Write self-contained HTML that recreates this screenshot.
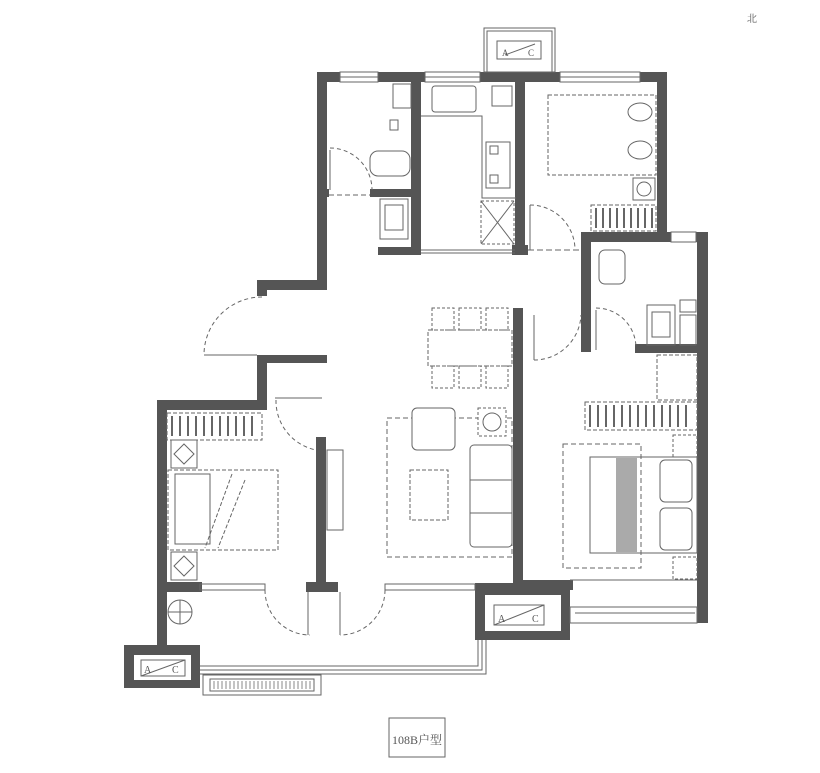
<!DOCTYPE html>
<html><head><meta charset="utf-8"><style>
html,body{margin:0;padding:0;background:#fff;}
svg{display:block;}
text{font-family:"Liberation Serif","Noto Serif CJK SC",serif;fill:#555;}
</style></head><body>
<svg width="820" height="773" viewBox="0 0 820 773" xmlns="http://www.w3.org/2000/svg">
<g fill="#555" stroke="none">
<rect x="317" y="72" width="350" height="10"/>
<rect x="317" y="72" width="10" height="218"/>
<rect x="257" y="280" width="70" height="10"/>
<rect x="257" y="280" width="10" height="16"/>
<rect x="411" y="82" width="10" height="173"/>
<rect x="378" y="247" width="43" height="8"/>
<rect x="370" y="189" width="43" height="8"/>
<rect x="317" y="189" width="12" height="8"/>
<rect x="515" y="82" width="10" height="173"/>
<rect x="512" y="245" width="16" height="10"/>
<rect x="657" y="72" width="10" height="170"/>
<rect x="581" y="232" width="127" height="10"/>
<rect x="581" y="232" width="10" height="120"/>
<rect x="697" y="232" width="11" height="391"/>
<rect x="635" y="344" width="65" height="9"/>
<rect x="513" y="308" width="10" height="280"/>
<rect x="257" y="355" width="10" height="55"/>
<rect x="257" y="355" width="70" height="8"/>
<rect x="157" y="400" width="110" height="10"/>
<rect x="157" y="400" width="10" height="245"/>
<rect x="316" y="437" width="10" height="150"/>
<rect x="306" y="582" width="32" height="10"/>
<rect x="157" y="582" width="45" height="10"/>
<rect x="475" y="583" width="95" height="57"/>
<rect x="513" y="580" width="60" height="10"/>
<rect x="124" y="645" width="76" height="43"/>
</g>
<g fill="#fff" stroke="none">
<rect x="485" y="595" width="76" height="36"/>
<rect x="134" y="655" width="57" height="25"/>
<rect x="270" y="363" width="25" height="20"/>
<rect x="300" y="363" width="22" height="20"/>
</g>
<g fill="none" stroke="#666" stroke-width="1">
<rect x="340" y="72" width="38" height="10" fill="#fff"/><line x1="340" y1="77" x2="378" y2="77"/>
<rect x="425" y="72" width="55" height="10" fill="#fff"/><line x1="425" y1="77" x2="480" y2="77"/>
<rect x="560" y="72" width="80" height="10" fill="#fff"/><line x1="560" y1="77" x2="640" y2="77"/>
<rect x="671" y="232" width="25" height="10" fill="#fff"/>
<rect x="484" y="28" width="71" height="44"/><rect x="487" y="31" width="65" height="41"/>
<rect x="497" y="41" width="44" height="18"/><line x1="505" y1="55" x2="535" y2="44"/>
<rect x="432" y="86" width="44" height="26" rx="3"/>
<polyline points="421,116 482,116 482,198 516,198"/>
<rect x="486" y="142" width="24" height="46"/>
<rect x="490" y="146" width="8" height="8"/><rect x="490" y="175" width="8" height="8"/>
<rect x="492" y="86" width="20" height="20"/>
<rect x="481" y="201" width="33" height="43" stroke-dasharray="3,2"/>
<line x1="481" y1="201" x2="514" y2="244"/><line x1="514" y1="201" x2="481" y2="244"/>
<line x1="421" y1="250" x2="515" y2="250"/><line x1="421" y1="253" x2="515" y2="253"/>
<rect x="370" y="151" width="40" height="25" rx="8"/>
<rect x="380" y="199" width="28" height="40"/><rect x="385" y="205" width="18" height="25"/>
<rect x="393" y="84" width="18" height="24"/><rect x="390" y="120" width="8" height="10"/>
<line x1="330" y1="150" x2="330" y2="190"/>
<path d="M330 148 A42 42 0 0 1 372 190" stroke-dasharray="4,3"/>
<line x1="329" y1="195" x2="370" y2="195" stroke-dasharray="5,3"/>
<rect x="548" y="95" width="108" height="80" stroke-dasharray="4,2"/>
<ellipse cx="640" cy="112" rx="12" ry="9"/><ellipse cx="640" cy="150" rx="12" ry="9"/>
<rect x="633" y="178" width="22" height="22"/><circle cx="644" cy="189" r="7"/>
<rect x="591" y="205" width="65" height="26" stroke-dasharray="4,2"/>
<path d="M596 208v20M603 208v20M610 208v20M617 208v20M624 208v20M631 208v20M638 208v20M645 208v20M652 208v20" stroke-width="2"/>
<line x1="530" y1="205" x2="530" y2="250"/>
<path d="M530 205 A45 45 0 0 1 575 250" stroke-dasharray="4,3"/>
<line x1="528" y1="250" x2="580" y2="250" stroke-dasharray="6,3"/>
<rect x="599" y="250" width="26" height="34" rx="6"/>
<rect x="647" y="305" width="28" height="40"/><rect x="652" y="312" width="18" height="25"/>
<rect x="680" y="300" width="16" height="12"/><rect x="680" y="315" width="16" height="30"/>
<line x1="596" y1="310" x2="596" y2="350"/>
<path d="M596 308 A40 40 0 0 1 636 348" stroke-dasharray="4,3"/>
<line x1="534" y1="315" x2="534" y2="360"/>
<path d="M534 360 A47 47 0 0 0 581 315" stroke-dasharray="4,3"/>
<rect x="428" y="330" width="84" height="36" stroke-dasharray="4,2"/>
<rect x="432" y="308" width="22" height="22" stroke-dasharray="3,2"/><rect x="459" y="308" width="22" height="22" stroke-dasharray="3,2"/><rect x="486" y="308" width="22" height="22" stroke-dasharray="3,2"/>
<rect x="432" y="366" width="22" height="22" stroke-dasharray="3,2"/><rect x="459" y="366" width="22" height="22" stroke-dasharray="3,2"/><rect x="486" y="366" width="22" height="22" stroke-dasharray="3,2"/>
<rect x="387" y="418" width="125" height="139" stroke-dasharray="5,3" fill="#fff"/>
<rect x="412" y="408" width="43" height="42" rx="5" fill="#fff"/>
<rect x="478" y="408" width="28" height="28" stroke-dasharray="3,2" fill="#fff"/><circle cx="492" cy="422" r="9"/>
<rect x="410" y="470" width="38" height="50" stroke-dasharray="4,2"/>
<rect x="470" y="445" width="42" height="102" rx="4" fill="#fff"/>
<line x1="470" y1="480" x2="512" y2="480"/><line x1="470" y1="513" x2="512" y2="513"/>
<rect x="327" y="450" width="16" height="80"/>
<path d="M262 297 A58 58 0 0 0 204 355" stroke-dasharray="4,3"/>
<line x1="204" y1="355" x2="257" y2="355"/>
<line x1="275" y1="398" x2="322" y2="398"/>
<path d="M276 400 A50 50 0 0 0 316 450" stroke-dasharray="4,3"/>
<rect x="167" y="413" width="95" height="27" stroke-dasharray="4,2"/>
<path d="M172 416v20M180 416v20M188 416v20M196 416v20M204 416v20M212 416v20M220 416v20M228 416v20M236 416v20M244 416v20M252 416v20" stroke-width="2"/>
<rect x="171" y="440" width="26" height="28"/><path d="M184 444l10 10-10 10-10-10z"/>
<rect x="171" y="552" width="26" height="28"/><path d="M184 556l10 10-10 10-10-10z"/>
<rect x="168" y="470" width="110" height="80" stroke-dasharray="4,2"/>
<rect x="175" y="474" width="35" height="70"/>
<line x1="232" y1="474" x2="205" y2="548" stroke-dasharray="4,2"/><line x1="245" y1="480" x2="218" y2="548" stroke-dasharray="4,2"/>
<circle cx="180" cy="612" r="12"/><line x1="168" y1="612" x2="192" y2="612"/><line x1="180" y1="600" x2="180" y2="624"/>
<rect x="657" y="355" width="40" height="45" stroke-dasharray="4,2"/>
<rect x="585" y="402" width="112" height="28" stroke-dasharray="4,2"/>
<path d="M590 405v22M598 405v22M606 405v22M614 405v22M622 405v22M630 405v22M638 405v22M646 405v22M654 405v22M662 405v22M670 405v22M678 405v22M686 405v22" stroke-width="2"/>
<rect x="563" y="444" width="78" height="124" stroke-dasharray="5,3"/>
<rect x="590" y="457" width="107" height="96"/>
<rect x="616" y="458" width="21" height="94" fill="#aaa" stroke="none"/>
<rect x="660" y="460" width="32" height="42" rx="5"/><rect x="660" y="508" width="32" height="42" rx="5"/>
<rect x="673" y="435" width="24" height="22" stroke-dasharray="3,2"/><rect x="673" y="557" width="24" height="22" stroke-dasharray="3,2"/>
<line x1="570" y1="580" x2="697" y2="580"/>
<rect x="570" y="607" width="127" height="16"/><line x1="575" y1="613" x2="695" y2="613"/>
<rect x="494" y="605" width="50" height="20"/><line x1="494" y1="625" x2="544" y2="605"/>
<rect x="141" y="660" width="44" height="16"/><line x1="141" y1="676" x2="185" y2="660"/>
<rect x="200" y="584" width="65" height="6"/>
<rect x="385" y="584" width="90" height="6"/>
<line x1="308" y1="592" x2="308" y2="635"/><line x1="340" y1="592" x2="340" y2="635"/>
<path d="M265 590 A45 45 0 0 0 310 635" stroke-dasharray="4,3"/>
<path d="M385 590 A45 45 0 0 1 340 635" stroke-dasharray="4,3"/>
<polyline points="200,666 478,666 478,640"/>
<polyline points="200,670 482,670 482,640"/>
<polyline points="200,674 486,674 486,640"/>
<rect x="203" y="675" width="118" height="20"/>
<rect x="210" y="679" width="104" height="12"/>
<path d="M214 681v8M218 681v8M222 681v8M226 681v8M230 681v8M234 681v8M238 681v8M242 681v8M246 681v8M250 681v8M254 681v8M258 681v8M262 681v8M266 681v8M270 681v8M274 681v8M278 681v8M282 681v8M286 681v8M290 681v8M294 681v8M298 681v8M302 681v8M306 681v8M310 681v8" stroke="#888"/>
<rect x="389" y="718" width="56" height="39"/>
</g>
<text x="417" y="744" font-size="12" text-anchor="middle">108B户型</text>
<text x="752" y="22" font-size="10" text-anchor="middle">北</text>
<text x="502" y="56" font-size="9">A</text><text x="528" y="56" font-size="9">C</text>
<text x="498" y="622" font-size="10">A</text><text x="532" y="622" font-size="10">C</text>
<text x="144" y="673" font-size="10">A</text><text x="172" y="673" font-size="10">C</text>
</svg>
</body></html>
